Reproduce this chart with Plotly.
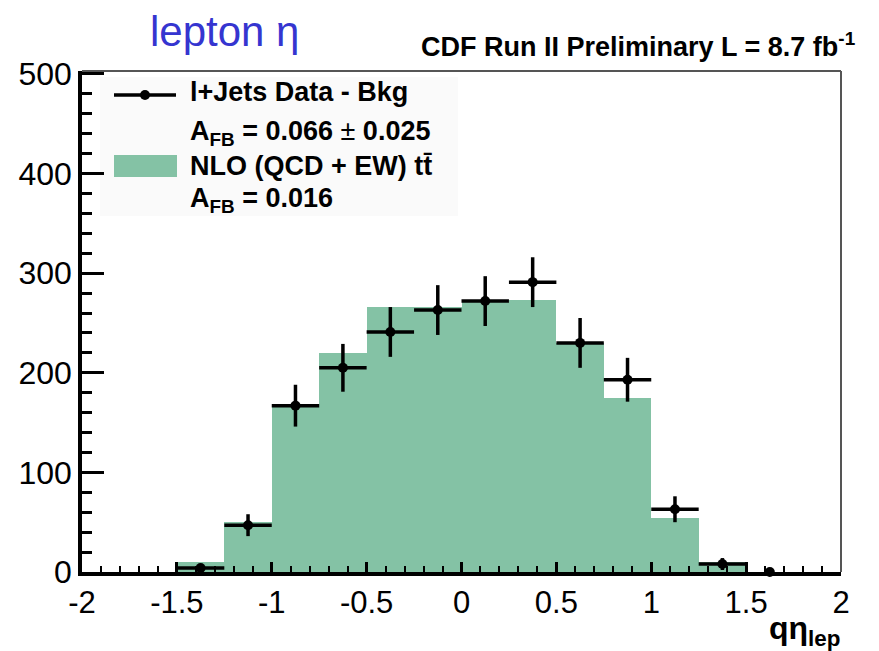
import plotly.graph_objects as go

# ---- data ----
bin_lefts = [-1.5, -1.25, -1.0, -0.75, -0.5, -0.25, 0.0, 0.25, 0.5, 0.75, 1.0, 1.25]
nlo_values = [10, 50, 166, 220, 266, 266, 271, 273, 230, 175, 54, 10]

data_x = [-1.375, -1.125, -0.875, -0.625, -0.375, -0.125, 0.125, 0.375, 0.625, 0.875, 1.125, 1.375, 1.625]
data_y = [4, 47, 167, 205, 241, 263, 272, 291, 230, 193, 63, 8, 0]
data_err = [4, 11, 21, 24, 25, 25, 25, 25, 25, 22, 13, 6, 0]
bin_half = [0.125] * 12 + [0]

x_ticks = [-2, -1.5, -1, -0.5, 0, 0.5, 1, 1.5, 2]
x_ticktext = ["-2", "-1.5", "-1", "-0.5", "0", "0.5", "1", "1.5", "2"]
y_ticks = [0, 100, 200, 300, 400, 500]

W, H = 879, 651
L, R, T, B = 82, 38, 71, 79
PW, PH = W - L - R, H - T - B


def px(x):
    return (x - L) / PW


def py(y):
    return (H - B - y) / PH


GREEN = "#84c2a5"
FONT = "Liberation Sans, Arial, sans-serif"

fig = go.Figure()
fig.add_trace(go.Bar(
    x=bin_lefts, y=nlo_values, width=0.25, offset=0,
    marker=dict(color=GREEN, line=dict(width=0)),
    showlegend=False,
))
fig.add_trace(go.Scatter(
    x=data_x, y=data_y, mode="markers",
    marker=dict(color="black", size=10),
    error_y=dict(type="data", array=data_err, color="black", thickness=3.5, width=0),
    error_x=dict(type="data", array=bin_half, color="black", thickness=3.5, width=0),
    cliponaxis=False, showlegend=False,
))

shapes = [
    # legend background
    dict(type="rect", xref="paper", yref="paper", x0=px(100), x1=px(458), y0=py(216), y1=py(77),
         fillcolor="#fafafa", line=dict(width=0), layer="below"),
    # legend line symbol
    dict(type="line", xref="paper", yref="paper", x0=px(114), x1=px(176), y0=py(95), y1=py(95),
         line=dict(color="black", width=3.5)),
    dict(type="circle", xref="paper", yref="paper", x0=px(140), x1=px(150), y0=py(100), y1=py(90),
         fillcolor="black", line=dict(width=0)),
    # legend fill symbol
    dict(type="rect", xref="paper", yref="paper", x0=px(114), x1=px(177), y0=py(177), y1=py(155),
         fillcolor=GREEN, line=dict(width=0)),
    # top/right frame
    dict(type="line", xref="paper", yref="paper", x0=0, x1=1, y0=1, y1=1,
         line=dict(color="#555555", width=2)),
    dict(type="line", xref="paper", yref="paper", x0=1, x1=1, y0=0, y1=1,
         line=dict(color="#555555", width=2)),
]

annotations = [
    dict(text="lepton η", x=px(148), y=py(31), xref="paper", yref="paper", xanchor="left",
         yanchor="middle", showarrow=False, font=dict(family=FONT, size=42, color="#3535d0")),
    dict(text="<b>CDF Run II Preliminary L = 8.7 fb<sup>-1</sup></b>", x=px(419), y=py(45),
         xref="paper", yref="paper", xanchor="left", yanchor="middle", showarrow=False,
         font=dict(family=FONT, size=27, color="black")),
    dict(text="<b>l+Jets Data - Bkg</b>", x=px(188), y=py(92), xref="paper", yref="paper",
         xanchor="left", yanchor="middle", showarrow=False, font=dict(family=FONT, size=27, color="black")),
    dict(text="<b>A<sub>FB</sub> = 0.066</b> ± <b>0.025</b>", x=px(188), y=py(133), xref="paper", yref="paper",
         xanchor="left", yanchor="middle", showarrow=False, font=dict(family=FONT, size=27, color="black")),
    dict(text="<b>NLO (QCD + EW) tt̄</b>", x=px(188), y=py(166), xref="paper", yref="paper",
         xanchor="left", yanchor="middle", showarrow=False, font=dict(family=FONT, size=27, color="black")),
    dict(text="<b>A<sub>FB</sub> = 0.016</b>", x=px(188), y=py(200), xref="paper", yref="paper",
         xanchor="left", yanchor="middle", showarrow=False, font=dict(family=FONT, size=27, color="black")),
    dict(text="<b>qη<sub>lep</sub></b>", x=px(842), y=py(630), xref="paper", yref="paper",
         xanchor="right", yanchor="middle", showarrow=False, font=dict(family=FONT, size=32, color="black")),
]

fig.update_layout(
    width=W, height=H,
    margin=dict(l=L, r=R, t=T, b=B),
    paper_bgcolor="white", plot_bgcolor="white",
    bargap=0, showlegend=False,
    shapes=shapes, annotations=annotations,
    font=dict(family=FONT, color="black"),
    xaxis=dict(
        range=[-2, 2], tickmode="array", tickvals=x_ticks, ticktext=x_ticktext,
        ticks="inside", ticklen=10, tickwidth=3, tickcolor="black",
        minor=dict(dtick=0.1, tick0=0, ticks="inside", ticklen=6, tickwidth=2, tickcolor="black", showgrid=False),
        showline=True, linecolor="black", linewidth=3.5, showgrid=False, zeroline=False,
        tickfont=dict(family=FONT, size=31, color="black"),
    ),
    yaxis=dict(
        range=[0, 503], tickmode="array", tickvals=y_ticks,
        ticks="inside", ticklen=22, tickwidth=3, tickcolor="black",
        minor=dict(dtick=20, tick0=0, ticks="inside", ticklen=10, tickwidth=3, tickcolor="black", showgrid=False),
        showline=True, linecolor="black", linewidth=3.5, showgrid=False, zeroline=False,
        tickfont=dict(family=FONT, size=32, color="black"),
    ),
)

fig.write_html("out.html")
